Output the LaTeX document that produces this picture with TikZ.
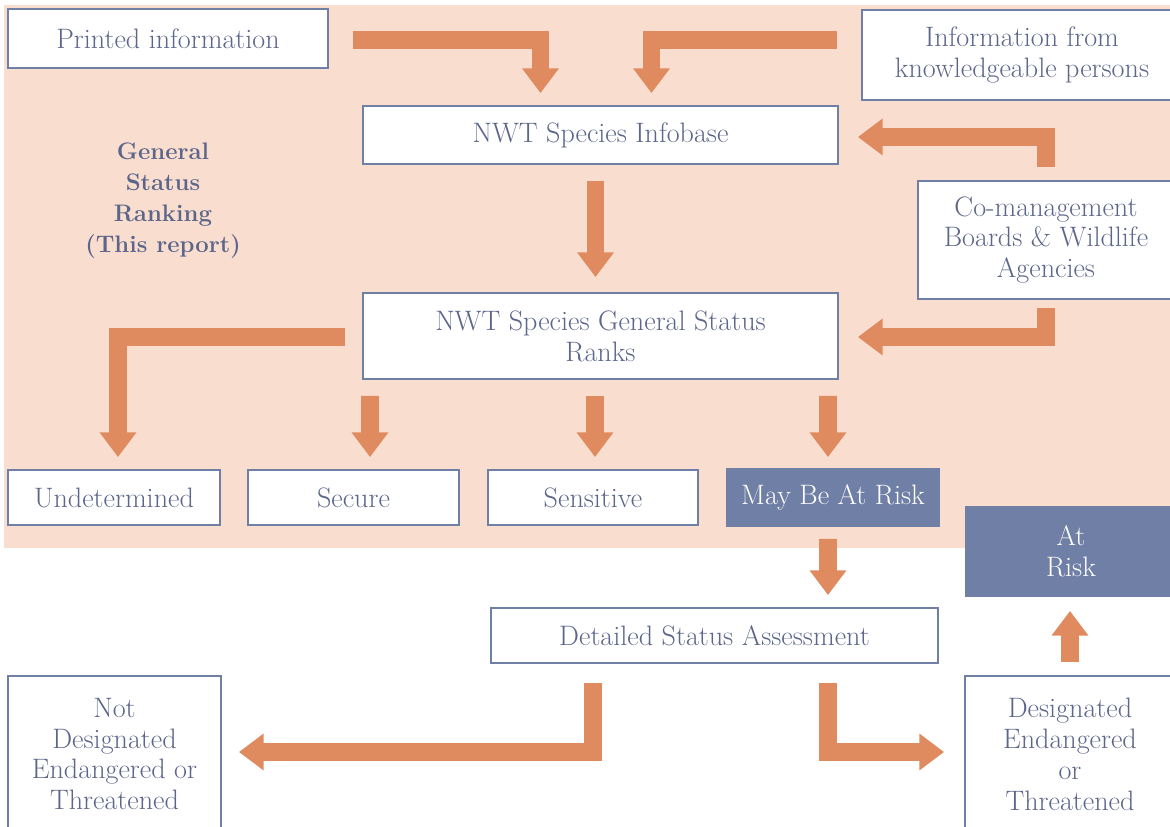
\documentclass[tikz,border=0pt]{standalone}
\usetikzlibrary{arrows.meta,calc}
\definecolor{peach}{RGB}{249,221,206}
\definecolor{flowc}{RGB}{224,139,95}
\definecolor{slate}{RGB}{112,127,165}
\definecolor{txt}{RGB}{92,102,138}
\begin{document}
\begin{tikzpicture}[x=0.02cm,y=-0.02cm,
  box/.style={draw=slate, line width=1.1pt, fill=white, text=txt, align=center,
    inner sep=0pt, font=\fontsize{16}{17.6}\selectfont},
  dark/.style={box, fill=slate, text=white},
  flow/.style={draw=flowc, line width=10pt, line join=miter,
    -{Triangle[width=20pt,length=14pt]}}]
\useasboundingbox (0,0) rectangle (1170,827);
\clip (0,0) rectangle (1170,827);
\fill[white] (0,0) rectangle (1170,827);
\fill[peach] (4,5) rectangle (1172,548);

% nodes
\node[box, minimum width=6.4cm, minimum height=1.18cm] (printed) at (168,38.5) {Printed information};
\node[box, minimum width=6.4cm, minimum height=1.8cm] (knowl) at (1022,55) {Information from\\knowledgeable persons};
\node[box, minimum width=9.5cm, minimum height=1.16cm] (infobase) at (600.5,135) {NWT Species Infobase};
\node[box, minimum width=5.12cm, minimum height=2.36cm] (co) at (1046,240) {Co-management\\Boards \& Wildlife\\Agencies};
\node[box, minimum width=9.5cm, minimum height=1.72cm] (general) at (600.5,336) {NWT Species General Status\\Ranks};
\node[text=txt, align=center, font=\fontsize{13.6}{17.6}\selectfont\bfseries] (gsr) at (163,201) {General\\Status\\Ranking\\(This report)};
\node[box, minimum width=4.24cm, minimum height=1.1cm] (undet) at (114,497.5) {Undetermined};
\node[box, minimum width=4.22cm, minimum height=1.1cm] (secure) at (353.5,497.5) {Secure};
\node[box, minimum width=4.2cm, minimum height=1.1cm] (sensitive) at (593,497.5) {Sensitive};
\node[dark, minimum width=4.24cm, minimum height=1.14cm] (maybe) at (833,497.5) {May Be At Risk};
\node[dark, minimum width=4.2cm, minimum height=1.78cm] (atrisk) at (1071,551.5) {At\\Risk};
\node[box, minimum width=8.94cm, minimum height=1.1cm] (detailed) at (714.5,635.5) {Detailed Status Assessment};
\node[box, minimum width=4.26cm, minimum height=3.12cm] (notdes) at (114.5,754) {Not\\Designated\\Endangered or\\Threatened};
\node[box, minimum width=4.2cm, minimum height=3.12cm] (des) at (1070,754) {Designated\\Endangered\\or\\Threatened};

% connectors
\draw[flow] ($(printed.east)+(24,1.5)$) -| ($(infobase.north)+(-60,-12)$);
\draw[flow] ($(knowl.west)+(-24,-15)$) -| ($(infobase.north)+(51,-12)$);
\draw[flow] ($(co.north)+(0,-13)$) |- ($(infobase.east)+(19,2)$);
\draw[flow] ($(infobase.south)+(-5,16)$) -- ($(general.north)+(-5,-15)$);
\draw[flow] ($(co.south)+(0,8)$) |- ($(general.east)+(19,1)$);
\draw[flow] ($(general.west)+(-17,1)$) -| ($(undet.north)+(4,-12)$);
\draw[flow] ($(general.south)+(-230.5,16)$) -- ($(secure.north)+(16.5,-12)$);
\draw[flow] ($(general.south)+(-5.5,16)$) -- ($(sensitive.north)+(2,-12)$);
\draw[flow] ($(general.south)+(227.5,16)$) -- ($(maybe.north)+(-5,-11)$);
\draw[flow] ($(maybe.south)+(-5,12)$) -- ($(detailed.north)+(113.5,-12)$);
\draw[flow] ($(des.north)+(0,-13)$) -- ($(atrisk.south)+(-1,14)$);
\draw[flow] ($(detailed.south)+(-121.5,19)$) |- ($(notdes.east)+(17,-2)$);
\draw[flow] ($(detailed.south)+(113.5,19)$) |- ($(des.west)+(-20,-2)$);
\end{tikzpicture}
\end{document}
